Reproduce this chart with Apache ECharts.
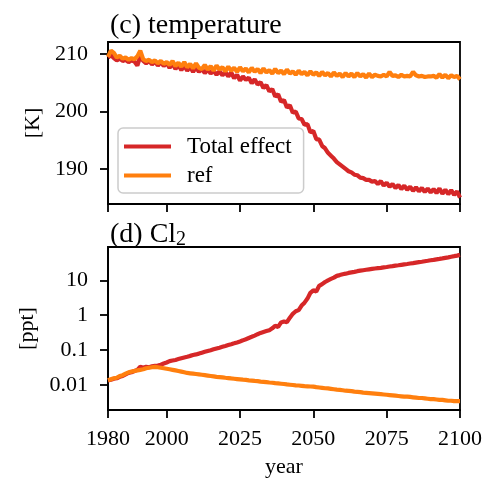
<!DOCTYPE html>
<html>
<head>
<meta charset="utf-8">
<script src="https://cdn.jsdelivr.net/npm/echarts@6/dist/echarts.min.js"></script>
<style>
  html, body { margin: 0; padding: 0; background: #fff; }
  #chart { width: 491px; height: 479px; }
</style>
</head>
<body>
<div id="chart"></div>
<script>
const startYear = 1980;
const xTicks = [1980, 2000, 2025, 2050, 2075, 2100];
const tempTicks = [190, 200, 210];
const clTicks = [0.01, 0.1, 1, 10];
const seriesNames = ['Total effect', 'ref'];

const tempTotal = [
  209.4, 209.8, 209.3, 208.9, 209.2, 208.8, 209.0, 208.6, 208.9, 208.7,
  208.0, 209.6, 208.8, 208.4, 208.8, 208.2, 208.7, 208.0, 208.6, 207.9,
  208.5, 207.6, 208.3, 207.4, 208.1, 207.2, 208.0, 207.1, 207.8, 206.9,
  207.7, 206.9, 207.4, 206.7, 207.3, 206.6, 207.1, 206.4, 207.0, 206.3,
  206.9, 206.1, 206.8, 205.8, 206.4, 205.4, 206.1, 205.5, 205.9, 204.9,
  205.6, 204.7, 205.1, 204.1, 204.6, 203.5, 203.9, 202.6, 203.0, 201.7,
  202.0, 200.7, 201.1, 199.8, 200.0, 198.8, 198.7, 197.7, 197.8, 196.4,
  196.6, 195.2, 195.1, 194.0, 193.6, 192.8, 192.3, 191.8, 191.2, 190.8,
  190.4, 190.0, 189.6, 189.4, 189.0, 188.9, 188.5, 188.4, 188.1, 188.1,
  187.8, 187.9, 187.4, 187.9, 187.1, 187.6, 186.9, 187.4, 186.7, 187.2,
  186.5, 187.1, 186.4, 186.9, 186.2, 186.8, 186.1, 186.7, 186.0, 186.6,
  185.9, 186.5, 185.8, 186.6, 185.7, 186.4, 185.6, 186.3, 185.5, 186.1,
  185.0
];
const tempRef = [
  209.5, 210.6, 210.2, 209.4, 209.7, 209.2, 209.4, 209.0, 209.3, 209.1,
  209.6, 210.6, 209.1, 208.8, 209.0, 208.6, 208.9, 208.4, 208.8, 208.3,
  208.6, 208.1, 208.8, 207.9, 208.5, 207.8, 208.6, 207.7, 208.3, 207.5,
  208.4, 207.6, 207.4, 208.1, 207.3, 207.9, 207.1, 208.0, 207.3, 207.7,
  207.0, 207.8, 207.1, 207.6, 206.9, 207.7, 207.0, 207.5, 206.8, 207.6,
  206.9, 207.4, 206.7, 207.5, 206.8, 207.2, 206.6, 207.4, 206.7, 207.1,
  206.5, 207.3, 206.6, 207.0, 206.4, 207.1, 206.5, 206.9, 206.3, 207.0,
  206.4, 206.8, 206.2, 206.9, 206.3, 206.7, 206.1, 206.8, 206.2, 206.6,
  206.0, 206.7, 206.1, 206.6, 206.0, 206.7, 206.1, 206.5, 205.9, 206.6,
  206.0, 206.4, 206.2, 206.1, 206.4, 206.1, 206.9, 206.2, 206.3, 206.0,
  206.4, 206.1, 206.2, 206.1, 206.9, 206.3, 206.1, 206.2, 206.0, 206.1,
  206.1, 206.2, 205.9, 206.5, 205.9, 206.4, 205.8, 206.3, 206.0, 206.2,
  205.6
];
const clTotal = [
  0.0135, 0.014, 0.015, 0.0155, 0.017, 0.018, 0.020, 0.022, 0.023, 0.025,
  0.027, 0.033, 0.031, 0.033, 0.032, 0.034, 0.035, 0.036, 0.038, 0.041,
  0.044, 0.048, 0.050, 0.052, 0.055, 0.058, 0.061, 0.064, 0.068, 0.072,
  0.075, 0.079, 0.084, 0.089, 0.094, 0.099, 0.105, 0.111, 0.117, 0.124,
  0.131, 0.139, 0.147, 0.156, 0.166, 0.177, 0.190, 0.205, 0.222, 0.240,
  0.260, 0.285, 0.31, 0.33, 0.35, 0.37, 0.42, 0.50, 0.46, 0.62,
  0.66, 0.63, 0.85, 1.1, 1.3, 1.4, 1.9, 2.3, 3.0, 4.4,
  5.2, 4.8, 7.0, 7.8, 9.0, 10.0, 11.0, 12.0, 13.5, 14.2,
  15.0, 15.6, 16.4, 17.0, 17.6, 18.4, 19.0, 19.6, 20.2, 20.8,
  21.4, 22.0, 22.5, 23.0, 23.6, 24.2, 25.0, 25.7, 26.5, 27.2,
  28.0, 28.8, 29.6, 30.5, 31.4, 32.4, 33.4, 34.4, 35.5, 36.6,
  37.8, 39.0, 40.3, 41.6, 43.0, 44.5, 46.0, 47.8, 49.6, 51.5,
  54.0
];
const clRef = [
  0.0135, 0.0145, 0.0155, 0.016, 0.018, 0.019, 0.021, 0.023, 0.024, 0.025,
  0.026, 0.027, 0.028, 0.030, 0.031, 0.032, 0.033, 0.032, 0.031, 0.030,
  0.029, 0.028, 0.027, 0.026, 0.025, 0.024, 0.023, 0.022, 0.0215, 0.021,
  0.0205, 0.020, 0.0195, 0.019, 0.0185, 0.018, 0.0175, 0.017, 0.0168, 0.0165,
  0.016, 0.0157, 0.0153, 0.015, 0.0147, 0.0144, 0.0141, 0.0139, 0.0135, 0.0133,
  0.0130, 0.0128, 0.0124, 0.0122, 0.0120, 0.0117, 0.0115, 0.0112, 0.0110, 0.0108,
  0.0106, 0.0103, 0.0101, 0.0099, 0.0097, 0.0096, 0.0094, 0.0092, 0.0091, 0.0090,
  0.0089, 0.0086, 0.0084, 0.0082, 0.0080, 0.0079, 0.0077, 0.0075, 0.0073, 0.0072,
  0.0070, 0.0068, 0.0067, 0.0066, 0.0064, 0.0063, 0.0062, 0.0060, 0.0059, 0.0058,
  0.0057, 0.0056, 0.0055, 0.0054, 0.0053, 0.0052, 0.0051, 0.0050, 0.0049, 0.0048,
  0.0047, 0.0046, 0.0046, 0.0045, 0.0044, 0.0043, 0.0042, 0.0042, 0.0041, 0.0040,
  0.0039, 0.0039, 0.0038, 0.0037, 0.0037, 0.0036, 0.0035, 0.0035, 0.0034, 0.0034,
  0.0034
];

const FONT = 'Liberation Serif';
const RED = '#d62728';
const ORANGE = '#ff7f0e';

function pairs(arr) { return arr.map((v, i) => [startYear + i, v]); }

const chart = echarts.init(document.getElementById('chart'), null, { renderer: 'canvas' });

const axisLineStyle = { color: '#000', width: 1.8 };
const tickStyle = { show: true, length: 8, inside: false, lineStyle: { color: '#000', width: 1.8 } };
const labelStyle = { color: '#000', fontFamily: FONT, fontSize: 22 };
const LW = 4.2;

const option = {
  animation: false,
  backgroundColor: '#fff',
  title: [
    { text: '(c) temperature', left: 105, top: 7,
      textStyle: { fontFamily: FONT, fontSize: 28, fontWeight: 'normal', color: '#000' } },
    { text: '(d) Cl{s|2}', left: 105, top: 214,
      textStyle: { fontFamily: FONT, fontSize: 28, fontWeight: 'normal', color: '#000',
        rich: { s: { fontFamily: FONT, fontSize: 20, color: '#000', padding: [11, 0, 0, 0] } } } }
  ],
  legend: {
    data: [{ name: seriesNames[0], icon: 'rect' }, { name: seriesNames[1], icon: 'rect' }],
    orient: 'vertical',
    left: 118, top: 128,
    itemWidth: 47, itemHeight: 4, itemGap: 6,
    backgroundColor: 'rgba(255,255,255,0.8)',
    borderColor: '#cccccc', borderWidth: 1.5, borderRadius: 5,
    padding: [7, 12, 6, 6],
    textStyle: { fontFamily: FONT, fontSize: 23, color: '#000', padding: [0, 0, 0, 11] }
  },
  grid: [
    { left: 108, width: 352, top: 42, height: 162, show: true, borderColor: '#000', borderWidth: 1.8, backgroundColor: 'transparent' },
    { left: 108, width: 352, top: 247, height: 163, show: true, borderColor: '#000', borderWidth: 1.8, backgroundColor: 'transparent' }
  ],
  xAxis: [
    { type: 'value', gridIndex: 0, min: 1980, max: 2100,
      axisLine: { show: true, lineStyle: axisLineStyle },
      axisTick: Object.assign({ customValues: xTicks }, tickStyle),
      axisLabel: { show: false },
      splitLine: { show: false } },
    { type: 'value', gridIndex: 1, min: 1980, max: 2100,
      name: 'year', nameLocation: 'middle', nameGap: 46,
      nameTextStyle: { fontFamily: FONT, fontSize: 22, color: '#000' },
      axisLine: { show: true, lineStyle: axisLineStyle },
      axisTick: Object.assign({ customValues: xTicks }, tickStyle),
      axisLabel: Object.assign({ customValues: xTicks, margin: 18, formatter: v => String(v) }, labelStyle),
      splitLine: { show: false } }
  ],
  yAxis: [
    { type: 'value', gridIndex: 0, min: 183.9, max: 212.1,
      name: '[K]', nameLocation: 'middle', nameGap: 64, nameRotate: 90,
      nameTextStyle: { fontFamily: FONT, fontSize: 22, color: '#000' },
      axisLine: { show: true, lineStyle: axisLineStyle },
      axisTick: Object.assign({ customValues: tempTicks }, tickStyle),
      axisLabel: Object.assign({ customValues: tempTicks, margin: 20, formatter: v => String(v) }, labelStyle),
      splitLine: { show: false } },
    { type: 'log', gridIndex: 1, min: 0.0019, max: 91, logBase: 10,
      name: '[ppt]', nameLocation: 'middle', nameGap: 69, nameRotate: 90,
      nameTextStyle: { fontFamily: FONT, fontSize: 22, color: '#000' },
      axisLine: { show: true, lineStyle: axisLineStyle },
      axisTick: Object.assign({ customValues: clTicks }, tickStyle),
      axisLabel: Object.assign({ customValues: clTicks, margin: 20,
        formatter: v => { const e = Math.log10(v); return Math.abs(e - Math.round(e)) < 1e-6 ? String(+v.toPrecision(3)) : ''; } }, labelStyle),
      minorTick: { show: false },
      splitLine: { show: false } }
  ],
  series: [
    { name: seriesNames[0], type: 'line', xAxisIndex: 0, yAxisIndex: 0, data: pairs(tempTotal),
      symbol: 'none', lineStyle: { color: RED, width: LW }, itemStyle: { color: RED }, z: 3 },
    { name: seriesNames[1], type: 'line', xAxisIndex: 0, yAxisIndex: 0, data: pairs(tempRef),
      symbol: 'none', lineStyle: { color: ORANGE, width: LW }, itemStyle: { color: ORANGE }, z: 4 },
    { name: seriesNames[0], type: 'line', xAxisIndex: 1, yAxisIndex: 1, data: pairs(clTotal),
      symbol: 'none', lineStyle: { color: RED, width: LW }, itemStyle: { color: RED }, z: 3 },
    { name: seriesNames[1], type: 'line', xAxisIndex: 1, yAxisIndex: 1, data: pairs(clRef),
      symbol: 'none', lineStyle: { color: ORANGE, width: LW }, itemStyle: { color: ORANGE }, z: 4 }
  ]
};
chart.setOption(option);
</script>
</body>
</html>
